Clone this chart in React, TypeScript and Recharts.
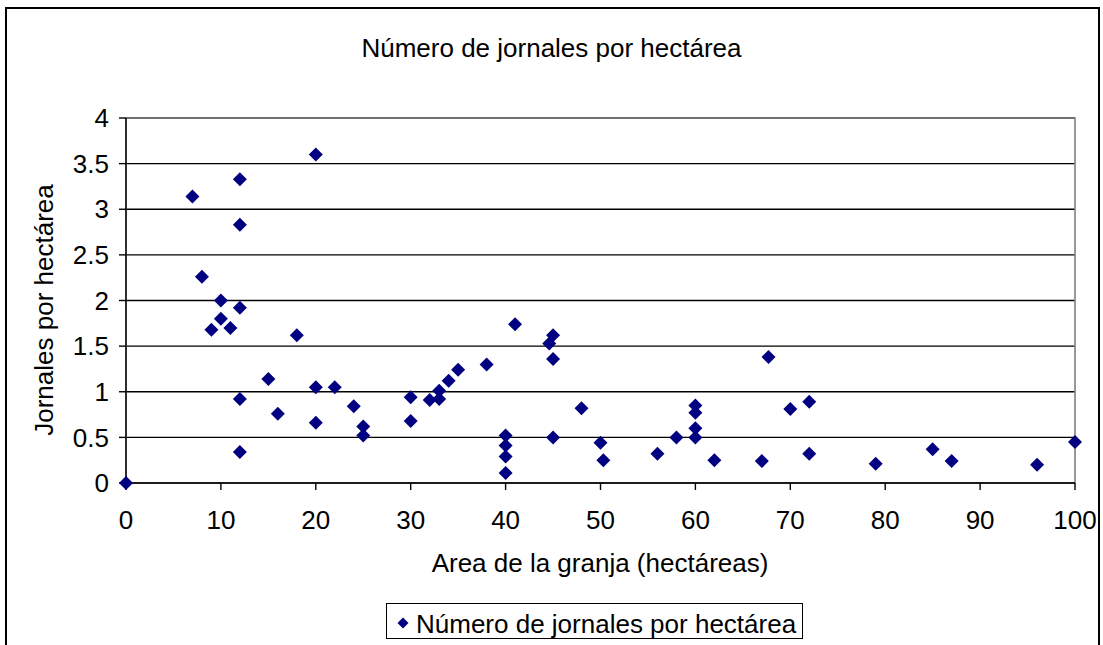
import { ScatterChart, Scatter, XAxis, YAxis, CartesianGrid, ReferenceArea } from 'recharts'

// farm area (hectares) and labour days per hectare
const areaHa = [
  0, 7, 8, 9, 10, 10, 11, 12, 12, 12, 12, 12, 15, 16, 18, 20, 20, 20, 22, 24,
  25, 25, 30, 30, 32, 33, 33, 34, 35, 38, 40, 40, 40, 40, 41, 44.6, 45, 45, 45, 48,
  50, 50.3, 56, 58, 60, 60, 60, 60, 62, 67, 67.7, 70, 72, 72, 79, 85, 87, 96, 100
]
const jornalesHa = [
  0, 3.14, 2.26, 1.68, 2.0, 1.8, 1.7, 3.33, 2.83, 1.92, 0.92, 0.34, 1.14, 0.76, 1.62, 3.6, 1.05, 0.66, 1.05, 0.84,
  0.62, 0.52, 0.94, 0.68, 0.91, 0.92, 1.01, 1.12, 1.24, 1.3, 0.52, 0.41, 0.29, 0.11, 1.74, 1.53, 1.62, 1.36, 0.5, 0.82,
  0.44, 0.25, 0.32, 0.5, 0.85, 0.77, 0.6, 0.5, 0.25, 0.24, 1.38, 0.81, 0.89, 0.32, 0.21, 0.37, 0.24, 0.2, 0.45
]
const xTicks = [0, 10, 20, 30, 40, 50, 60, 70, 80, 90, 100]
const yTicks = [0, 0.5, 1, 1.5, 2, 2.5, 3, 3.5, 4]

const titulo = 'Número de jornales por hectárea'
const ejeX = 'Area de la granja (hectáreas)'
const ejeY = 'Jornales por hectárea'
const serie = 'Número de jornales por hectárea'

const points = areaHa.map((x, i) => ({ x, y: jornalesHa[i] }))

const FONT = '"Liberation Sans", Arial, sans-serif'
const NAVY = '#000080'

const Diamond = (props: any) => {
  const { cx, cy } = props
  const r = 7
  return (
    <polygon
      points={`${cx},${cy - r} ${cx + r},${cy} ${cx},${cy + r} ${cx - r},${cy}`}
      fill={NAVY}
    />
  )
}

const textBox = {
  position: 'absolute' as const,
  fontFamily: FONT,
  fontSize: 26,
  lineHeight: '30px',
  color: '#000',
  whiteSpace: 'nowrap' as const
}

export default function App () {
  return (
    <div style={{ position: 'relative', width: 1103, height: 645, overflow: 'hidden', background: '#fff' }}>
      <style>{'body{margin:0}'}</style>
      <ScatterChart width={1103} height={645} margin={{ top: 118, right: 28, bottom: 0, left: 0 }}>
        <CartesianGrid vertical={false} stroke="#000" strokeWidth={1.4} />
        <ReferenceArea x1={0} x2={100} y1={0} y2={4} fill="none" stroke="#808080" strokeWidth={1.6} />
        <XAxis
          type="number"
          dataKey="x"
          domain={[0, 100]}
          ticks={xTicks}
          interval={0}
          height={162}
          stroke="#000"
          strokeWidth={1.4}
          tickSize={7}
          tickMargin={21}
          tick={{ fill: '#000', fontSize: 26, fontFamily: FONT }}
        />
        <YAxis
          type="number"
          dataKey="y"
          domain={[0, 4]}
          ticks={yTicks}
          interval={0}
          width={126}
          stroke="#000"
          strokeWidth={1.4}
          tickSize={7}
          tickMargin={10}
          tick={{ fill: '#000', fontSize: 26, fontFamily: FONT }}
        />
        <Scatter data={points} shape={<Diamond />} fill={NAVY} isAnimationActive={false} name={serie} />
      </ScatterChart>

      {/* outer chart frame */}
      <div style={{ position: 'absolute', left: 5, top: 7, width: 1091, height: 700, border: '2px solid #000', boxSizing: 'content-box', pointerEvents: 'none' }} />

      <div style={{ ...textBox, left: 0, width: 1103, top: 33, textAlign: 'center' }}>{titulo}</div>
      <div style={{ ...textBox, left: 300, width: 600, top: 548, textAlign: 'center' }}>{ejeX}</div>
      <div
        style={{
          ...textBox,
          left: 44 - 200,
          top: 310 - 15,
          width: 400,
          textAlign: 'center',
          transform: 'rotate(-90deg)'
        }}
      >
        {ejeY}
      </div>

      <div style={{ position: 'absolute', left: 386, top: 603, width: 415, height: 34, border: '1px solid #000', background: '#fff' }}>
        <svg width={14} height={14} style={{ position: 'absolute', left: 8.7, top: 12.3 }}>
          <polygon points="7,1.5 12.5,7 7,12.5 1.5,7" fill={NAVY} />
        </svg>
        <div style={{ ...textBox, left: 29, top: 4.5 }}>{serie}</div>
      </div>
    </div>
  )
}
